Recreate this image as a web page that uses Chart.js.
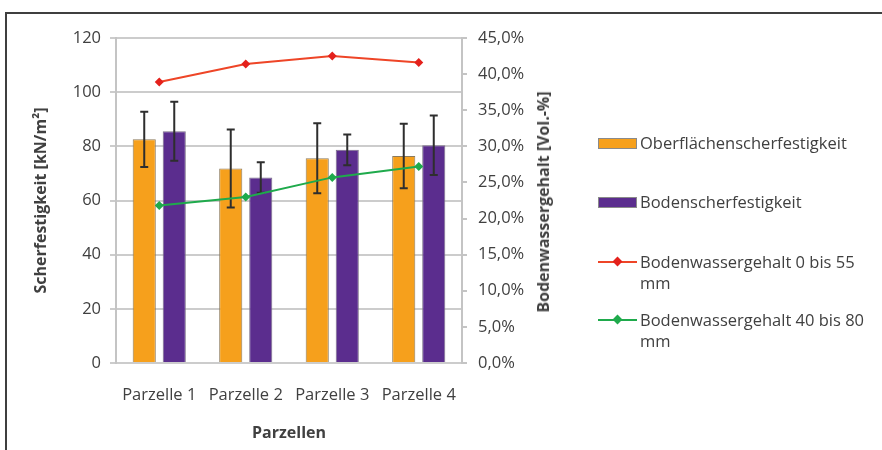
<!DOCTYPE html>
<html><head><meta charset="utf-8">
<script src="https://cdn.jsdelivr.net/npm/chart.js@4/dist/chart.umd.min.js"></script>
<style>
html,body{margin:0;padding:0;background:#fff;overflow:hidden;}
#wrap{position:relative;width:882px;height:450px;overflow:hidden;}
#frame{position:absolute;left:5px;top:12px;width:1000px;height:1000px;border:2px solid #3f3f3f;box-sizing:border-box;}
#c{position:absolute;left:0;top:0;}
.lg{position:absolute;font-family:'Open Sans',sans-serif;font-size:16.5px;color:#404040;line-height:21px;white-space:nowrap;}
.sw{position:absolute;width:37px;height:9px;border:1px solid #8a8a8a;}
.ln{position:absolute;width:39px;height:2px;}
.dm{position:absolute;width:7px;height:7px;transform:rotate(45deg);}
#rtitle{position:absolute;left:543px;top:202px;transform:translate(-50%,-50%) rotate(-90deg);font-family:'Open Sans',sans-serif;font-weight:bold;font-size:16px;color:#404040;white-space:nowrap;}
</style></head>
<body>
<div id="wrap">
<div id="frame"></div>
<canvas id="c" width="882" height="450"></canvas>
<div id="rtitle">Bodenwassergehalt [Vol.-%]</div>
<div id="legend"></div>
</div>
<script>
const categories = ['Parzelle 1', 'Parzelle 2', 'Parzelle 3', 'Parzelle 4'];
const seriesNames = ['Oberflächenscherfestigkeit', 'Bodenscherfestigkeit', 'Bodenwassergehalt 0 bis 55 mm', 'Bodenwassergehalt 40 bis 80 mm'];
const oberflaeche = [82.6, 71.8, 75.6, 76.4];
const oberflaecheErr = [10.2, 14.4, 12.9, 11.9];
const boden = [85.6, 68.5, 78.7, 80.4];
const bodenErr = [10.9, 5.6, 5.7, 11.0];
const wasser0bis55 = [38.9, 41.4, 42.5, 41.6];
const wasser40bis80 = [21.8, 23.0, 25.7, 27.2];
const leftTitle = 'Scherfestigkeit [kN/m²]';
const xTitle = 'Parzellen';

const colOrange = '#F6A01C', colPurple = '#5B2D8E', colRed = '#EE4527', colRedPt = '#E4211C', colGreen = '#1FAA4C';
const textCol = '#404040';
const FAM = 'Open Sans';
const font = {family: FAM, size: 16.5};

// HTML legend
const legendItems = [
  {type: 'bar', color: colOrange, lines: ['Oberflächenscherfestigkeit'], y: 143},
  {type: 'bar', color: colPurple, lines: ['Bodenscherfestigkeit'], y: 202},
  {type: 'line', color: colRed, pt: colRedPt, lines: ['Bodenwassergehalt 0 bis 55', 'mm'], y: 262},
  {type: 'line', color: colGreen, pt: colGreen, lines: ['Bodenwassergehalt 40 bis 80', 'mm'], y: 320}
];
const lg = document.getElementById('legend');
legendItems.forEach(it => {
  if (it.type === 'bar') {
    const s = document.createElement('div'); s.className = 'sw';
    s.style.left = '598px'; s.style.top = (it.y - 5) + 'px'; s.style.background = it.color;
    lg.appendChild(s);
  } else {
    const l = document.createElement('div'); l.className = 'ln';
    l.style.left = '598px'; l.style.top = (it.y - 1) + 'px'; l.style.background = it.color;
    lg.appendChild(l);
    const d = document.createElement('div'); d.className = 'dm';
    d.style.left = '614px'; d.style.top = (it.y - 4) + 'px'; d.style.background = it.pt;
    lg.appendChild(d);
  }
  const t = document.createElement('div'); t.className = 'lg';
  t.style.left = '640px'; t.style.top = (it.y - 11) + 'px';
  t.innerHTML = it.lines.join('<br>');
  lg.appendChild(t);
});

const errorBars = {
  id: 'errorBars',
  afterDatasetDraw(chart, args) {
    const ds = chart.data.datasets[args.index];
    if (!ds.errors) return;
    const ctx = chart.ctx, ys = chart.scales.y;
    ctx.save();
    ctx.strokeStyle = '#2e2e2e'; ctx.lineWidth = 2;
    args.meta.data.forEach((el, i) => {
      const v = ds.data[i], e = ds.errors[i];
      const yt = ys.getPixelForValue(v + e), yb = ys.getPixelForValue(v - e);
      ctx.beginPath();
      ctx.moveTo(el.x, yt); ctx.lineTo(el.x, yb);
      ctx.moveTo(el.x - 4, yt); ctx.lineTo(el.x + 4, yt);
      ctx.moveTo(el.x - 4, yb); ctx.lineTo(el.x + 4, yb);
      ctx.stroke();
    });
    ctx.restore();
  }
};

function build() {
  new Chart(document.getElementById('c'), {
    type: 'bar',
    data: {
      labels: categories,
      datasets: [
        {type: 'bar', label: seriesNames[0], data: oberflaeche, errors: oberflaecheErr, backgroundColor: colOrange, borderColor: '#8c7a5c', borderWidth: 1, yAxisID: 'y', order: 2, categoryPercentage: 0.694, barPercentage: 0.77},
        {type: 'bar', label: seriesNames[1], data: boden, errors: bodenErr, backgroundColor: colPurple, borderColor: '#7a6f88', borderWidth: 1, yAxisID: 'y', order: 2, categoryPercentage: 0.694, barPercentage: 0.77},
        {type: 'line', label: seriesNames[2], data: wasser0bis55, borderColor: colRed, backgroundColor: colRedPt, borderWidth: 2, pointStyle: 'rectRot', pointRadius: 4.5, pointBorderWidth: 0, yAxisID: 'y1', order: 0, tension: 0},
        {type: 'line', label: seriesNames[3], data: wasser40bis80, borderColor: colGreen, backgroundColor: colGreen, borderWidth: 2, pointStyle: 'rectRot', pointRadius: 4.5, pointBorderWidth: 0, yAxisID: 'y1', order: 1, tension: 0}
      ]
    },
    options: {
      responsive: false,
      animation: false,
      layout: {padding: {top: 38, left: 0, right: 0, bottom: 0}},
      plugins: {legend: {display: false}, tooltip: {enabled: false}},
      scales: {
        x: {
          grid: {display: false},
          border: {display: false},
          ticks: {color: textCol, font: font, padding: 14, maxRotation: 0},
          title: {display: true, text: xTitle, color: textCol, font: {family: FAM, size: 16, weight: 'bold'}, padding: {top: 0, bottom: 7}},
          afterFit(s) { s.height = 87; }
        },
        y: {
          position: 'left', min: 0, max: 120,
          ticks: {stepSize: 20, color: textCol, font: font, padding: 9},
          grid: {color: '#cccccc', lineWidth: 2, tickLength: 6},
          border: {display: true, color: '#c4c4c4', width: 2},
          title: {display: true, text: leftTitle, color: textCol, font: {family: FAM, size: 16, weight: 'bold'}, padding: {top: 32, bottom: 0}},
          afterFit(s) { s.width = 116; }
        },
        y1: {
          position: 'right', min: 0, max: 45,
          ticks: {stepSize: 5, color: textCol, font: font, padding: 11,
            callback: v => v.toFixed(1).replace('.', ',') + '%'},
          grid: {drawOnChartArea: false, color: '#c4c4c4', lineWidth: 2, tickLength: 5},
          border: {display: true, color: '#c4c4c4', width: 2},
          afterFit(s) { s.width = 420; }
        }
      }
    },
    plugins: [errorBars]
  });
}
if (document.fonts && document.fonts.load) {
  Promise.all([document.fonts.load('16px "Open Sans"'), document.fonts.load('bold 16px "Open Sans"')]).then(build, build);
} else build();
</script>
</body></html>
